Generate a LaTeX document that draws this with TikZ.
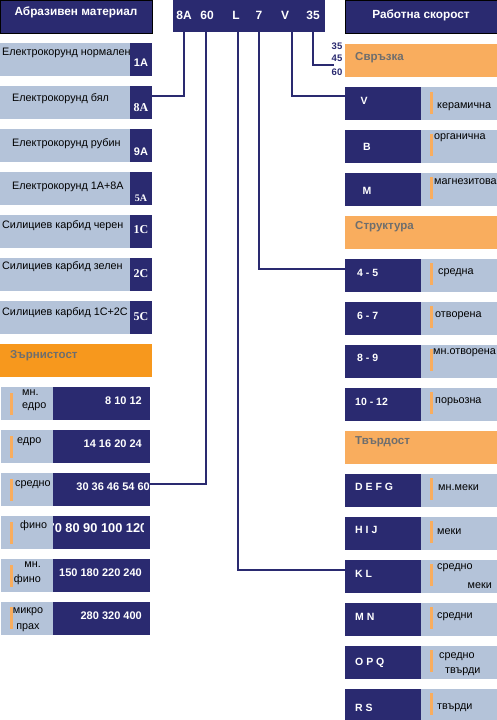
\documentclass[tikz,border=0pt]{standalone}
\usepackage{fontspec}
\setmainfont{Liberation Sans}
\newfontfamily\serifff{Liberation Serif}
\definecolor{navy}{HTML}{2A2A70}
\definecolor{lightbg}{HTML}{B4C3D9}
\definecolor{orA}{HTML}{F7981D}
\definecolor{orB}{HTML}{F9AD5E}
\definecolor{greyt}{HTML}{6E6E6E}
\tikzset{
 box/.style={anchor=north west, inner sep=0pt, outer sep=0pt, minimum height=33pt},
 hdr/.style={box, fill=navy, draw=black, line width=0.8pt, minimum width=152pt},
 lbox/.style={box, fill=lightbg},
 dbox/.style={box, fill=navy},
 obox/.style={box, minimum width=152pt},
 bar/.style={fill=orB, minimum width=3pt, minimum height=22pt, anchor=north west, inner sep=0pt},
 tx/.style={inner sep=0pt, font=\fontsize{10.8}{13}\selectfont},
 wtx/.style={inner sep=0pt, text=white, font=\fontsize{10.5}{13}\selectfont\bfseries},
 ttx/.style={inner sep=0pt, text=white, font=\fontsize{12}{13}\selectfont\bfseries},
 ntx/.style={inner sep=0pt, text=white, font=\fontsize{11}{13}\selectfont\bfseries},
 csans/.style={inner sep=0pt, text=white, font=\fontsize{11}{13}\selectfont\bfseries},
 cserif/.style={inner sep=0pt, text=white, font=\fontsize{12}{13}\serifff\bfseries},
 htx/.style={inner sep=0pt, text=white, font=\fontsize{11.8}{13}\selectfont\bfseries},
 gtx/.style={inner sep=0pt, text=greyt, font=\fontsize{11.5}{14}\selectfont\bfseries, anchor=west},
 stx/.style={inner sep=0pt, text=navy, font=\fontsize{9.5}{11}\selectfont\bfseries},
 conn/.style={draw=navy, line width=1.5pt},
}
\begin{document}
\begin{tikzpicture}[x=1pt,y=-1pt]
\useasboundingbox (0,0) rectangle (497,720);
% ---------- headers ----------
\node[hdr] (hA) at (0,0) {};
\node[htx] (thA) at (76,12) {Абразивен материал};
\node[hdr] (hR) at (345,0) {};
\node[htx] (thR) at (421,15) {Работна скорост};
\node[dbox, minimum width=152pt, minimum height=32pt] (top) at (173,0) {};
\node[ttx] (l8A) at (184,15) {8A};
\node[ttx] (l60) at (207,15) {60};
\node[ttx] (lL) at (236,15) {L};
\node[ttx] (l7) at (259,15) {7};
\node[ttx] (lV) at (285,15) {V};
\node[ttx] (l35) at (313,15) {35};
\node[stx] (s35) at (337,46) {35};
\node[stx] (s45) at (337,58) {45};
\node[stx] (s60) at (337,72) {60};
\coordinate (spdend) at (334,65);
% ---------- abrasive material ----------
\node[lbox, minimum width=130pt] (r1A) at (0,43) {};
\node[dbox, minimum width=22pt] (c1A) at (130,43) {};
\node[tx, anchor=west] (t1A) at (2,53) {Електрокорунд нормален};
\node[csans] (k1A) at (141,63) {1A};
\node[lbox, minimum width=130pt] (r8A) at (0,86) {};
\node[dbox, minimum width=22pt] (c8A) at (130,86) {};
\node[tx, anchor=west] (t8A) at (12,99) {Електрокорунд бял};
\node[cserif] (k8A) at (141,108) {8A};
\node[lbox, minimum width=130pt] (r9A) at (0,129) {};
\node[dbox, minimum width=22pt] (c9A) at (130,129) {};
\node[tx, anchor=west] (t9A) at (12,144) {Електрокорунд рубин};
\node[csans] (k9A) at (141,152) {9A};
\node[lbox, minimum width=130pt] (r5A) at (0,172) {};
\node[dbox, minimum width=22pt] (c5A) at (130,172) {};
\node[tx, anchor=west] (t5A) at (12,187) {Електрокорунд 1A+8A};
\node[cserif, font=\fontsize{10}{12}\serifff\bfseries] (k5A) at (141,198) {5A};
\node[lbox, minimum width=130pt] (r1C) at (0,215) {};
\node[dbox, minimum width=22pt] (c1C) at (130,215) {};
\node[tx, anchor=west] (t1C) at (2,226) {Силициев карбид черен};
\node[cserif] (k1C) at (141,230) {1C};
\node[lbox, minimum width=130pt] (r2C) at (0,258) {};
\node[dbox, minimum width=22pt] (c2C) at (130,258) {};
\node[tx, anchor=west] (t2C) at (2,267) {Силициев карбид зелен};
\node[cserif] (k2C) at (141,274) {2C};
\node[lbox, minimum width=130pt] (r5C) at (0,301) {};
\node[dbox, minimum width=22pt] (c5C) at (130,301) {};
\node[tx, anchor=west] (t5C) at (2,313) {Силициев карбид 1C+2C};
\node[cserif] (k5C) at (141,317) {5C};
% ---------- grain ----------
\node[obox, fill=orA] (hG) at (0,344) {};
\node[gtx] (thG) at (10,356) {Зърнистост};
\node[lbox, minimum width=52pt] (gl1) at (1,387) {};
\node[dbox, minimum width=97pt] (gd1) at (53,387) {};
\node[bar] (gb1) at (10,393) {};
\node[tx, align=left, anchor=west, font=\fontsize{10.8}{13}\selectfont] (gt1) at (22,400) {мн.\\едро};
\node[ntx, anchor=east] (gn1) at (142,401) {8 10 12};
\node[lbox, minimum width=52pt] (gl2) at (1,430) {};
\node[dbox, minimum width=97pt] (gd2) at (53,430) {};
\node[bar] (gb2) at (10,436) {};
\node[tx, anchor=west] (gt2) at (17,442) {едро};
\node[ntx, anchor=east] (gn2) at (142,444) {14 16 20 24};
\node[lbox, minimum width=52pt] (gl3) at (1,473) {};
\node[dbox, minimum width=97pt] (gd3) at (53,473) {};
\node[bar] (gb3) at (10,479) {};
\node[tx, anchor=west] (gt3) at (15,485) {средно};
\node[ntx, anchor=east] (gn3) at (150,487) {30 36 46 54 60};
\node[lbox, minimum width=52pt] (gl4) at (1,516) {};
\node[dbox, minimum width=97pt] (gd4) at (53,516) {};
\node[bar] (gb4) at (10,522) {};
\node[tx, anchor=west] (gt4) at (20,526) {фино};
\begin{scope}
\clip (53,516) rectangle (143,549);
\node[ntx, font=\fontsize{12.8}{14}\selectfont\bfseries] (gn4) at (97.5,528) {70 80 90 100 120};
\end{scope}
\node[lbox, minimum width=52pt] (gl5) at (1,559) {};
\node[dbox, minimum width=97pt] (gd5) at (53,559) {};
\node[bar] (gb5) at (10,565) {};
\node[tx, align=right, anchor=east, font=\fontsize{10.8}{15}\selectfont] (gt5) at (41,573) {мн.\\фино};
\node[ntx, anchor=east] (gn5) at (142,573) {150 180 220 240};
\node[lbox, minimum width=52pt] (gl6) at (1,602) {};
\node[dbox, minimum width=97pt] (gd6) at (53,602) {};
\node[bar] (gb6) at (10,607) {};
\node[tx, align=center, font=\fontsize{10.8}{16}\selectfont] (gt6) at (28,620) {микро\\прах};
\node[ntx, anchor=east] (gn6) at (142,616) {280 320 400};
% ---------- right column ----------
\node[obox, fill=orB] (hB) at (345,44) {};
\node[gtx] (thB) at (355,58) {Свръзка};
\node[dbox, minimum width=76pt] (dV) at (345,87) {};
\node[lbox, minimum width=76pt] (lbV) at (421,87) {};
\node[bar] (bV) at (430,92) {};
\node[wtx] (tV) at (364,101) {V};
\node[tx, anchor=west] (oV) at (437,107) {керамична};
\node[dbox, minimum width=76pt] (dB) at (345,130) {};
\node[lbox, minimum width=76pt] (lbB) at (421,130) {};
\node[bar] (bB) at (430,134) {};
\node[wtx] (tB) at (367,147) {B};
\node[tx, anchor=west] (oB) at (434,138) {органична};
\node[dbox, minimum width=76pt] (dM) at (345,173) {};
\node[lbox, minimum width=76pt] (lbM) at (421,173) {};
\node[bar] (bM) at (430,177) {};
\node[wtx] (tM) at (367,191) {M};
\node[tx, anchor=west] (oM) at (434,182) {магнезитова};
\node[obox, fill=orB] (hS) at (345,216) {};
\node[gtx] (thS) at (355,227) {Структура};
\node[dbox, minimum width=76pt] (d45) at (345,259) {};
\node[lbox, minimum width=76pt] (lb45) at (421,259) {};
\node[bar] (b45) at (430,263) {};
\node[wtx, anchor=west] (t45) at (357,273) {4 - 5};
\node[tx, anchor=west] (o45) at (438,273) {средна};
\node[dbox, minimum width=76pt] (d67) at (345,302) {};
\node[lbox, minimum width=76pt] (lb67) at (421,302) {};
\node[bar] (b67) at (430,306) {};
\node[wtx, anchor=west] (t67) at (357,316) {6 - 7};
\node[tx, anchor=west] (o67) at (435,316) {отворена};
\node[dbox, minimum width=76pt] (d89) at (345,345) {};
\node[lbox, minimum width=76pt] (lb89) at (421,345) {};
\node[bar] (b89) at (430,349) {};
\node[wtx, anchor=west] (t89) at (357,358) {8 - 9};
\node[tx, anchor=west] (o89) at (433,353) {мн.отворена};
\node[dbox, minimum width=76pt] (d1012) at (345,388) {};
\node[lbox, minimum width=76pt] (lb1012) at (421,388) {};
\node[bar] (b1012) at (430,392) {};
\node[wtx, anchor=west] (t1012) at (355,402) {10 - 12};
\node[tx, anchor=west] (o1012) at (435,402) {порьозна};
\node[obox, fill=orB] (hT) at (345,431) {};
\node[gtx] (thT) at (355,442) {Твърдост};
\node[dbox, minimum width=76pt] (dDEFG) at (345,474) {};
\node[lbox, minimum width=76pt] (lbDEFG) at (421,474) {};
\node[bar] (bDEFG) at (430,478) {};
\node[wtx, anchor=west] (tDEFG) at (355,487) {D E F G};
\node[tx, anchor=west] (oDEFG) at (438,488) {мн.меки};
\node[dbox, minimum width=76pt] (dHIJ) at (345,517) {};
\node[lbox, minimum width=76pt] (lbHIJ) at (421,517) {};
\node[bar] (bHIJ) at (430,521) {};
\node[wtx, anchor=west] (tHIJ) at (355,530) {H I J};
\node[tx, anchor=west] (oHIJ) at (437,532) {меки};
\node[dbox, minimum width=76pt] (dKL) at (345,560) {};
\node[lbox, minimum width=76pt] (lbKL) at (421,560) {};
\node[bar] (bKL) at (430,564) {};
\node[wtx, anchor=west] (tKL) at (355,574) {K L};
\node[tx, anchor=west] (oKLa) at (437,568) {средно};
\node[tx, anchor=east] (oKLb) at (492,586) {меки};
\node[dbox, minimum width=76pt] (dMN) at (345,603) {};
\node[lbox, minimum width=76pt] (lbMN) at (421,603) {};
\node[bar] (bMN) at (430,607) {};
\node[wtx, anchor=west] (tMN) at (355,617) {M N};
\node[tx, anchor=west] (oMN) at (437,617) {средни};
\node[dbox, minimum width=76pt] (dOPQ) at (345,646) {};
\node[lbox, minimum width=76pt] (lbOPQ) at (421,646) {};
\node[bar] (bOPQ) at (430,650) {};
\node[wtx, anchor=west] (tOPQ) at (355,663) {O P Q};
\node[tx, anchor=west] (oOPQa) at (439,657) {средно};
\node[tx, anchor=west] (oOPQb) at (445,672) {твърди};
\node[dbox, minimum width=76pt] (dRS) at (345,689) {};
\node[lbox, minimum width=76pt] (lbRS) at (421,689) {};
\node[bar] (bRS) at (430,693) {};
\node[wtx, anchor=west] (tRS) at (355,708) {R S};
\node[tx, anchor=west] (oRS) at (437,708) {твърди};
% ---------- connectors ----------
\draw[conn] (l8A.center |- top.south) |- ([yshift=-10pt]c8A.north east);
\draw[conn] ([xshift=-1pt]l60.center |- top.south) |- ([yshift=-11pt]gd3.north east);
\draw[conn] ([xshift=2pt]lL.center |- top.south) |- ([yshift=-10pt]dKL.north west);
\draw[conn] (l7.center |- top.south) |- ([yshift=-10pt]d45.north west);
\draw[conn] ([xshift=7pt]lV.center |- top.south) |- ([yshift=-9pt]dV.north west);
\draw[conn] (l35.center |- top.south) |- (spdend);
\end{tikzpicture}
\end{document}
